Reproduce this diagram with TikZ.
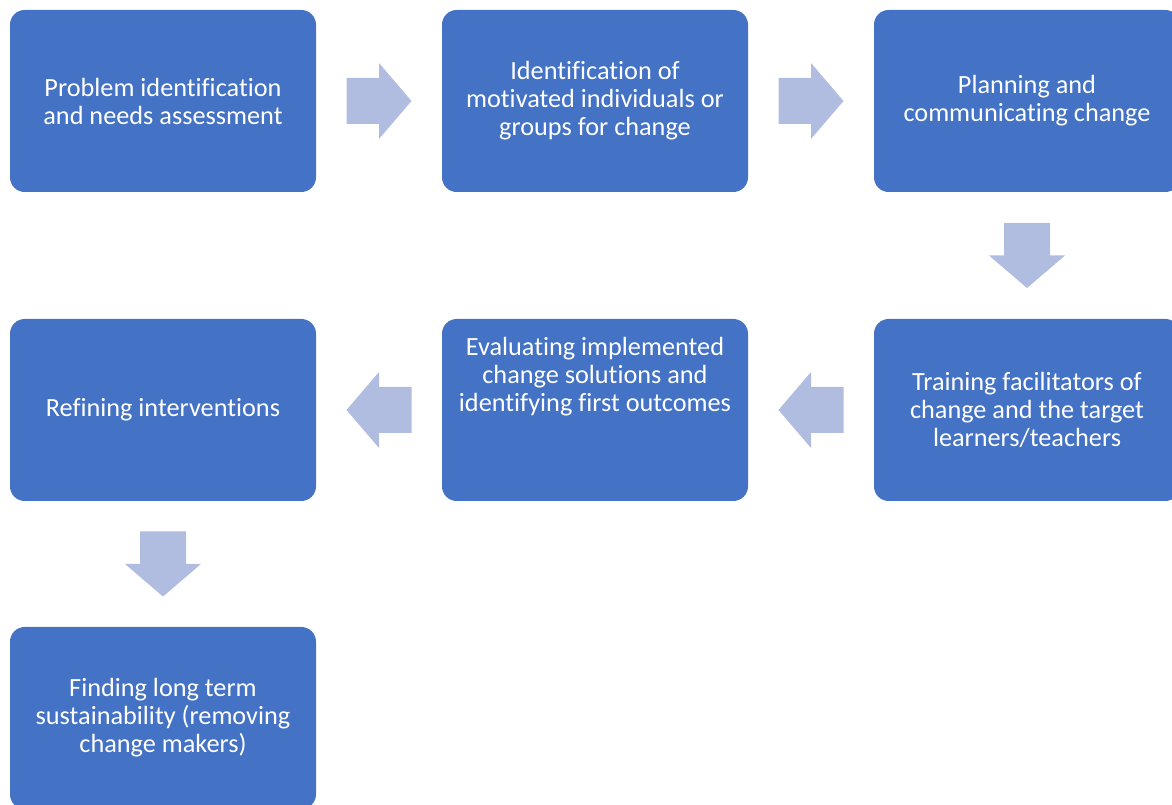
\documentclass[tikz,border=0pt]{standalone}
\usepackage{fontspec}
\setmainfont{Carlito}[Ligatures=NoCommon]
\usetikzlibrary{calc}
\definecolor{boxblue}{RGB}{68,114,196}
\definecolor{arrowblue}{RGB}{176,189,224}
\tikzset{
  stage/.style={fill=boxblue, rounded corners=11pt, minimum width=229.5pt,
    minimum height=136.5pt, inner sep=0pt, text=white, align=center,
    font=\fontsize{19.7}{21}\selectfont},
  % fat block arrow, pointing right, centred on the pic's origin
  flow/.pic={
    \fill[arrowblue] (-32.5,-23) -- (0,-23) -- (0,-38) -- (32.5,0)
      -- (0,38) -- (0,23) -- (-32.5,23) -- cycle;
  },
}
\begin{document}
\begin{tikzpicture}[x=0.75pt,y=-0.75pt]
  \useasboundingbox (0,0) rectangle (1172,805);
  % first row, left to right
  \node[stage] (prob) at (163,101) {Problem identification\\and needs assessment};
  \node[stage] (motiv) at (595,101) {Identification of\\motivated individuals or\\groups for change};
  \node[stage] (plan) at (1027,101) {Planning and\\communicating change};
  % second row, right to left
  \node[stage] (train) at (1027,410) {Training facilitators of\\change and the target\\learners/teachers};
  \node[stage] (eval) at (595,410) {};
  \node[text=white, align=center, font=\fontsize{19.7}{21}\selectfont, yshift=24.75pt]
    (evaltext) at (eval.center) {Evaluating implemented\\change solutions and\\identifying first outcomes};
  \node[stage] (refine) at (163,410) {Refining interventions};
  % last step
  \node[stage] (sustain) at (163,718) {Finding long term\\sustainability (removing\\change makers)};
  % block arrows between the steps
  \pic at ($(prob.east)!0.5!(motiv.west)$) {flow};
  \pic at ($(motiv.east)!0.5!(plan.west)$) {flow};
  \pic[rotate=-90] at ($(plan.south)!0.5!(train.north)$) {flow};
  \pic[rotate=180] at ($(train.west)!0.5!(eval.east)$) {flow};
  \pic[rotate=180] at ($(eval.west)!0.5!(refine.east)$) {flow};
  \pic[rotate=-90] at ($(refine.south)!0.5!(sustain.north)$) {flow};
\end{tikzpicture}
\end{document}
